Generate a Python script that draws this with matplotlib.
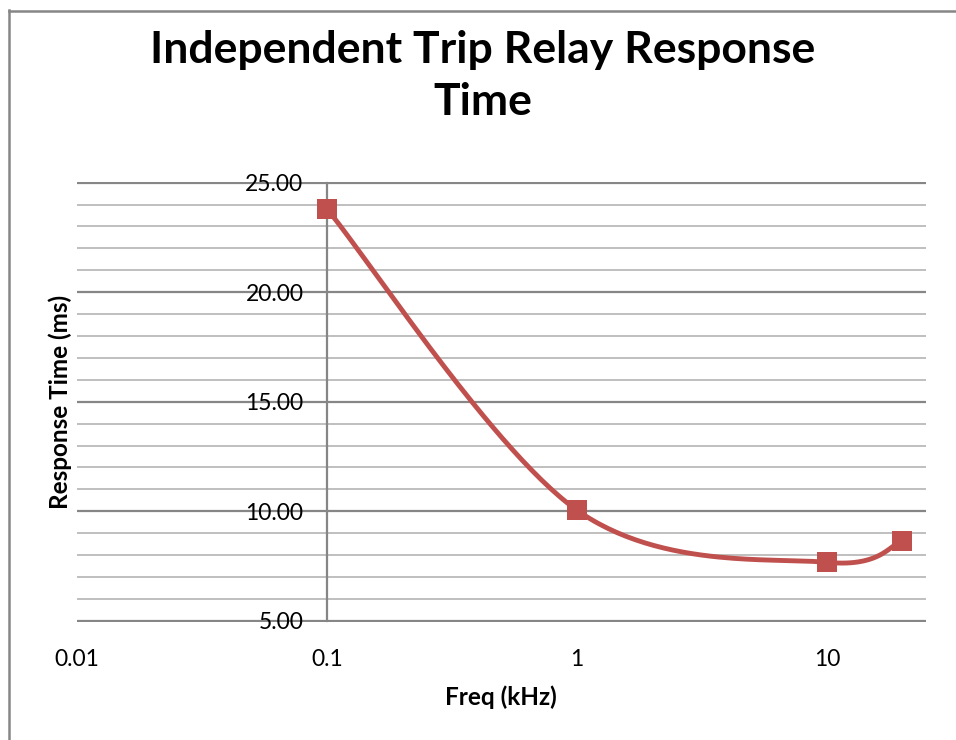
import matplotlib.pyplot as plt
import numpy as np
from matplotlib.lines import Line2D

# Datos
freq_khz = [0.1, 1, 10, 20]
resp_ms = [23.8, 10.05, 7.67, 8.65]
x_ticks = [0.01, 0.1, 1, 10]
x_tick_labels = ['0.01', '0.1', '1', '10']
y_ticks = [5, 10, 15, 20, 25]

plt.rcParams['font.family'] = ['Lato', 'DejaVu Sans']

red = '#C0504D'
grid_major = '#868686'
grid_minor = '#BFBFBF'


def suavizar(xs, ys, n=60):
    # curva suavizada estilo Excel (Bezier tipo Catmull-Rom en ejes log-x)
    lx = np.log10(xs)
    p = np.column_stack([lx, ys])
    p = np.vstack([p[0], p, p[-1]])
    out = []
    t = np.linspace(0, 1, n)[:, None]
    for i in range(1, len(p) - 2):
        p0, p1, p2, p3 = p[i - 1], p[i], p[i + 1], p[i + 2]
        c1 = p1 + (p2 - p0) / 6
        c2 = p2 - (p3 - p1) / 6
        seg = ((1 - t) ** 3) * p1 + 3 * ((1 - t) ** 2) * t * c1 \
            + 3 * (1 - t) * t ** 2 * c2 + t ** 3 * p2
        out.append(seg)
    out = np.vstack(out)
    return 10 ** out[:, 0], out[:, 1]


fig = plt.figure(figsize=(9.56, 7.4), dpi=100)
ax = fig.add_axes([77 / 956, 1 - 621.5 / 740, (926 - 77) / 956, (621.5 - 182) / 740])

ax.set_xscale('log')
ax.set_xlim(0.01, 10 ** (-2 + (926 - 77) / 250))
ax.set_ylim(4.97, 25.03)

# rejilla
for v in range(5, 26):
    major = v % 5 == 0
    ax.axhline(v, color=grid_major if major else grid_minor,
               linewidth=1.6 if major else 1.4, zorder=1)

# eje vertical cruzando en 0.1
for s in ['top', 'right', 'bottom']:
    ax.spines[s].set_visible(False)
ax.spines['left'].set_position(('data', 0.1))
ax.spines['left'].set_color(grid_major)
ax.spines['left'].set_linewidth(1.6)
ax.spines['left'].set_bounds(5, 25)

ax.set_yticks(y_ticks)
ax.set_yticklabels([f'{v:.2f}' for v in y_ticks])
ax.set_xticks(x_ticks)
ax.set_xticklabels(x_tick_labels)
ax.xaxis.set_minor_locator(plt.NullLocator())
ax.tick_params(axis='y', length=0, pad=17, labelsize=16.5, labelcolor='black')
ax.tick_params(axis='x', length=0, pad=20, labelsize=16.5, labelcolor='black')

xs, ys = suavizar(freq_khz, resp_ms)
ax.plot(xs, ys, color=red, linewidth=3.5, zorder=3, solid_capstyle='round')
ax.plot(freq_khz, resp_ms, linestyle='none', marker='s', markersize=14,
        color=red, markeredgewidth=0, zorder=4, clip_on=False)

fig.text(483 / 956, 1 - 76 / 740, 'Independent Trip Relay Response\nTime',
         ha='center', va='center', fontsize=32, fontweight='bold', linespacing=1.35)
fig.text(60 / 956, 1 - 402 / 740, 'Response Time (ms)', rotation=90,
         ha='center', va='center', fontsize=17.5, fontweight='bold')
fig.text(501 / 956, 1 - 697 / 740, 'Freq (kHz)', ha='center', va='center',
         fontsize=17.5, fontweight='bold')

# marco del gráfico
fig.add_artist(Line2D([8.5 / 956, 8.5 / 956], [0, 1 - 10 / 740],
                      transform=fig.transFigure, color=grid_major, linewidth=1.8))
fig.add_artist(Line2D([8.5 / 956, 1], [1 - 10.5 / 740, 1 - 10.5 / 740],
                      transform=fig.transFigure, color=grid_major, linewidth=1.8))

fig.savefig('out.png', dpi=100)
